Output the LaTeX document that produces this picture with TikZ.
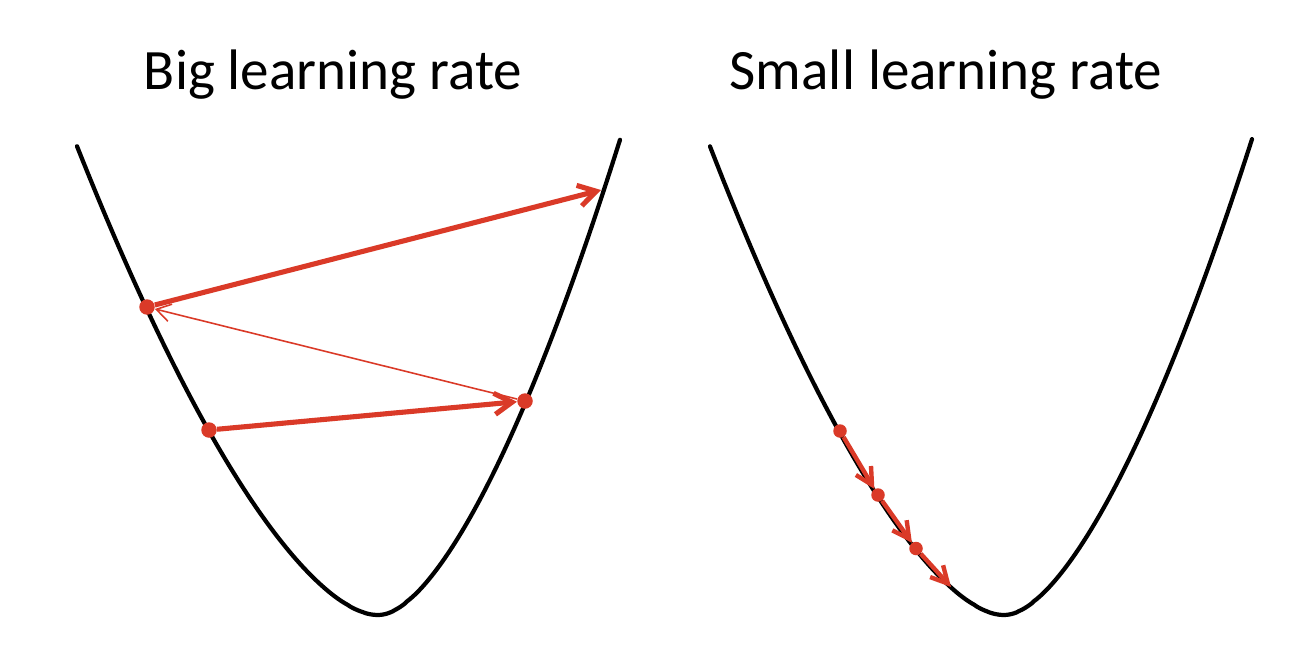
\documentclass[tikz,border=0pt]{standalone}
\usepackage{fontspec}
\setmainfont{Carlito}
\usetikzlibrary{arrows.meta}
\definecolor{gdred}{RGB}{218,58,40}
\begin{document}
\begin{tikzpicture}[x=0.02cm,y=-0.02cm,
  curve/.style={line width=2.4pt, black, line cap=round},
  bigdot/.style={circle, fill=gdred, inner sep=0pt, minimum size=0.31cm},
  smalldot/.style={circle, fill=gdred, inner sep=0pt, minimum size=0.27cm},
  bigstep/.style={gdred, line width=2.9pt, -{Straight Barb[length=10pt,width=12pt]}},
  thinstep/.style={gdred, line width=0.9pt, -{Straight Barb[length=8pt,width=10pt]}},
  smallstep/.style={gdred, line width=2.5pt, -{Straight Barb[length=9.5pt,width=10pt]}},
  title/.style={anchor=base, font=\fontsize{32.5}{39}\selectfont}]
\useasboundingbox (0,0) rectangle (1308,666);
% titles
\node[title] (t1) at (333,89) {Big learning rate};
\node[title] (t2) at (946,89) {Small learning rate};
% curves (left panel, vertex at (378,615))
\draw[curve] plot[domain=77:378, samples=120, smooth]
  (\x, {615 - 81.18*(pow((378-\x)/100*(378-\x)/100+0.04,0.8) - 0.07614)})
  -- plot[domain=378:620, samples=100, smooth]
  (\x, {615 - 117.1*(pow((\x-378)/100*(\x-378)/100+0.04,0.8) - 0.07614)});
% right panel, vertex at (1004,615)
\draw[curve] plot[domain=710:1004, samples=120, smooth]
  (\x, {615 - 84.29*(pow((1004-\x)/100*(1004-\x)/100+0.04,0.8) - 0.07614)})
  -- plot[domain=1004:1252, samples=100, smooth]
  (\x, {615 - 112.7*(pow((\x-1004)/100*(\x-1004)/100+0.04,0.8) - 0.07614)});
% big learning rate steps
\node[bigdot] (a) at (209,430) {};
\node[bigdot] (b) at (525,401) {};
\node[bigdot] (c) at (147,307) {};
\coordinate (d) at (601,190);
\draw[bigstep] (a) -- (b);
\draw[thinstep] (b) -- (c);
\draw[bigstep] (c) -- (d);
% small learning rate steps
\node[smalldot] (p) at (840,431) {};
\node[smalldot] (q) at (878,495) {};
\node[smalldot] (r) at (916,548.5) {};
\coordinate (s) at (951,587);
\draw[smallstep] (p) -- (q);
\draw[smallstep] (q) -- (r);
\draw[smallstep] (r) -- (s);
\end{tikzpicture}
\end{document}
